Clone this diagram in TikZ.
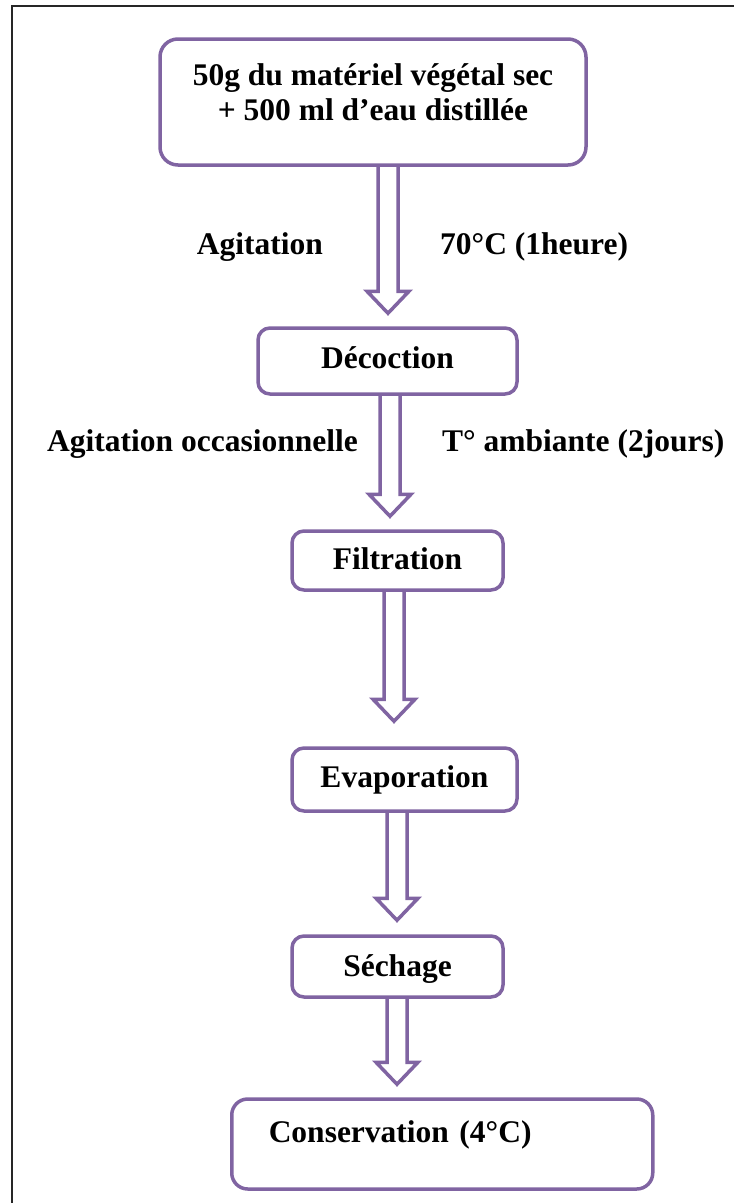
\documentclass[tikz,border=0pt]{standalone}
\usepackage{fontspec}
\setmainfont{Liberation Serif}
\usetikzlibrary{calc}
\definecolor{violette}{RGB}{128,100,162}
\tikzset{
	etape/.style={draw=violette, line width=3.5pt, rounded corners=12pt, inner sep=0pt, anchor=base, font=\fontsize{31.5}{35}\selectfont\bfseries},
	etiquette/.style={inner sep=0pt, font=\fontsize{31.5}{35}\selectfont\bfseries},
	fleche/.style={draw=violette, line width=3.5pt, line join=miter}
}
\newcommand\flecheentre[4]{\draw[fleche] let \p1=(#1.south), \p2=([yshift=#4pt]#2.north) in (#3pt-10pt,\y1) -- (#3pt-10pt,\y2+22pt) -- (#3pt-21pt,\y2+22pt) -- (#3pt,\y2) -- (#3pt+21pt,\y2+22pt) -- (#3pt+10pt,\y2+22pt) -- (#3pt+10pt,\y1);}
\begin{document}
\begin{tikzpicture}[x=1pt, y=-1pt]
	\useasboundingbox (0,0) rectangle (734,1203);
	\draw[line width=2pt, black!85] (12,1203) -- (12,6) -- (734,6);
	\node[etape, rounded corners=18pt, align=center, minimum width=426pt, text height=81pt, text depth=45pt] (materiel) at (373,120) {50g du matériel végétal sec\\+ 500 ml d’eau distillée};
	\node[etape, minimum width=259pt, text height=40pt, text depth=26pt] (decoction) at (387.5,368) {Décoction};
	\node[etape, minimum width=211pt, text height=38pt, text depth=21pt] (filtration) at (397.5,569) {Filtration};
	\node[etape, minimum width=225pt, text height=39pt, text depth=24pt] (evaporation) at (404.5,787) {Evaporation};
	\node[etape, minimum width=211pt, text height=40pt, text depth=21pt] (sechage) at (397.5,976) {Séchage};
	\node[etape, rounded corners=16pt, anchor=base west, inner xsep=37pt, text width=347pt, align=left, text height=43pt, text depth=47pt] (conservation) at (230,1142) {Conservation (4°C)};
	\flecheentre{materiel}{decoction}{388}{13}
	\flecheentre{decoction}{filtration}{390}{13}
	\flecheentre{filtration}{evaporation}{394}{25}
	\flecheentre{evaporation}{sechage}{397}{14}
	\flecheentre{sechage}{conservation}{397}{13}
	\node[etiquette, anchor=base east] (agitation) at (323,254) {Agitation};
	\node[etiquette, anchor=base west] (chauffage) at (440,254) {70°C (1heure)};
	\node[etiquette, anchor=base east] (occasion) at (358,451) {Agitation occasionnelle};
	\node[etiquette, anchor=base west] (ambiante) at (442,451) {T° ambiante (2jours)};
\end{tikzpicture}
\end{document}
